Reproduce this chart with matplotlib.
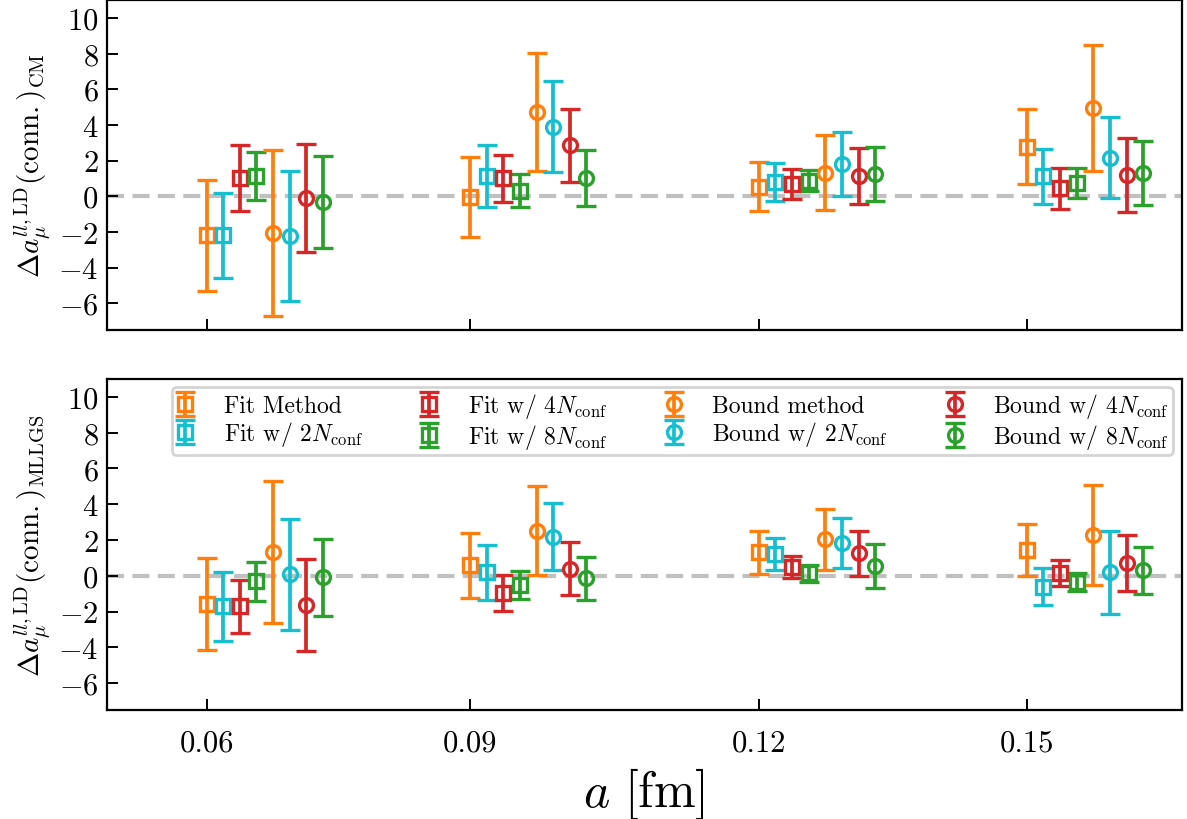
import matplotlib
matplotlib.use("Agg")
import matplotlib.pyplot as plt
import numpy as np

plt.rcParams['font.family'] = 'serif'
plt.rcParams['font.serif'] = ['cmr10', 'DejaVu Serif']
plt.rcParams['mathtext.fontset'] = 'cm'
plt.rcParams['axes.formatter.use_mathtext'] = True
plt.rcParams['axes.unicode_minus'] = True

# lattice spacings (plotting positions) and labels
a_values = [0.0570, 0.0871, 0.1201, 0.1507]
tick_labels = ['0.06', '0.09', '0.12', '0.15']

labels = ['Fit Method', r'Fit w/ $2N_\mathrm{conf}$', r'Fit w/ $4N_\mathrm{conf}$', r'Fit w/ $8N_\mathrm{conf}$',
          'Bound method', r'Bound w/ $2N_\mathrm{conf}$', r'Bound w/ $4N_\mathrm{conf}$', r'Bound w/ $8N_\mathrm{conf}$']
colors = ['#ff7f0e', '#17becf', '#d62728', '#2ca02c', '#ff7f0e', '#17becf', '#d62728', '#2ca02c']
markers = ['s', 's', 's', 's', 'o', 'o', 'o', 'o']

# Top panel (CM): values per series, at each a
cm_fit = [-2.20, -0.06, 0.54, 2.77]
cm_fit_err = [3.13, 2.25, 1.36, 2.10]
cm_fit2 = [-2.20, 1.14, 0.80, 1.12]
cm_fit2_err = [2.40, 1.72, 1.06, 1.53]
cm_fit4 = [1.00, 1.00, 0.69, 0.44]
cm_fit4_err = [1.85, 1.31, 0.84, 1.13]
cm_fit8 = [1.13, 0.32, 0.87, 0.73]
cm_fit8_err = [1.33, 0.95, 0.59, 0.84]
cm_bound = [-2.06, 4.73, 1.32, 4.93]
cm_bound_err = [4.65, 3.31, 2.10, 3.54]
cm_bound2 = [-2.22, 3.90, 1.81, 2.16]
cm_bound2_err = [3.64, 2.56, 1.77, 2.27]
cm_bound4 = [-0.10, 2.85, 1.13, 1.20]
cm_bound4_err = [3.03, 2.03, 1.58, 2.07]
cm_bound8 = [-0.32, 1.03, 1.26, 1.30]
cm_bound8_err = [2.60, 1.55, 1.52, 1.79]

# Bottom panel (MLLGS)
ml_fit = [-1.57, 0.58, 1.31, 1.46]
ml_fit_err = [2.58, 1.84, 1.20, 1.46]
ml_fit2 = [-1.69, 0.20, 1.22, -0.60]
ml_fit2_err = [1.93, 1.55, 0.88, 1.01]
ml_fit4 = [-1.71, -0.95, 0.50, 0.15]
ml_fit4_err = [1.50, 1.00, 0.62, 0.71]
ml_fit8 = [-0.31, -0.50, 0.13, -0.34]
ml_fit8_err = [1.10, 0.77, 0.47, 0.52]
ml_bound = [1.32, 2.52, 2.04, 2.27]
ml_bound_err = [3.96, 2.50, 1.70, 2.79]
ml_bound2 = [0.08, 2.19, 1.85, 0.19]
ml_bound2_err = [3.09, 1.87, 1.40, 2.32]
ml_bound4 = [-1.62, 0.40, 1.25, 0.71]
ml_bound4_err = [2.58, 1.49, 1.25, 1.57]
ml_bound8 = [-0.08, -0.13, 0.54, 0.30]
ml_bound8_err = [2.16, 1.20, 1.22, 1.31]

cm_vals = [cm_fit, cm_fit2, cm_fit4, cm_fit8, cm_bound, cm_bound2, cm_bound4, cm_bound8]
cm_errs = [cm_fit_err, cm_fit2_err, cm_fit4_err, cm_fit8_err, cm_bound_err, cm_bound2_err, cm_bound4_err, cm_bound8_err]
ml_vals = [ml_fit, ml_fit2, ml_fit4, ml_fit8, ml_bound, ml_bound2, ml_bound4, ml_bound8]
ml_errs = [ml_fit_err, ml_fit2_err, ml_fit4_err, ml_fit8_err, ml_bound_err, ml_bound2_err, ml_bound4_err, ml_bound8_err]

fig = plt.figure(figsize=(11.87, 8.2), dpi=100)
ax1 = fig.add_axes([0.0899, 0.5963, 0.9056, 0.4025])
ax2 = fig.add_axes([0.0899, 0.1329, 0.9056, 0.4037])

step = 0.0019
x = np.array(a_values)

def draw(ax, vals, errs):
    ax.axhline(0, color='#c0c0c0', lw=3.0, dashes=(4.1, 2.0), zorder=0)
    for i in range(8):
        ax.errorbar(x + i * step, vals[i], yerr=errs[i], fmt=markers[i], color=colors[i],
                    mfc='none', mec=colors[i], ms=10, mew=2.4, elinewidth=2.7,
                    capsize=7, capthick=2.7, label=labels[i], zorder=3)
    ax.set_xlim(0.0456, 0.1684)
    ax.set_ylim(-7.5, 11)
    ax.set_yticks(np.arange(-6, 11, 2))
    ax.set_xticks(a_values)
    ax.tick_params(direction='in', length=8, width=1.4, labelsize=22, pad=6)
    for s in ax.spines.values():
        s.set_linewidth(1.6)

draw(ax1, cm_vals, cm_errs)
draw(ax2, ml_vals, ml_errs)
ax1.set_xticklabels([])
ax2.set_xticklabels(tick_labels)
ax2.tick_params(axis='x', pad=14)

ax1.set_ylabel(r'$\Delta a_\mu^{ll,\mathrm{LD}}(\mathrm{conn.})_{\mathrm{CM}}$', fontsize=21, labelpad=4)
ax2.set_ylabel(r'$\Delta a_\mu^{ll,\mathrm{LD}}(\mathrm{conn.})_{\mathrm{MLLGS}}$', fontsize=21, labelpad=4)
ax2.set_xlabel(r'$a\ [\mathrm{fm}]$', fontsize=36, labelpad=6)

leg = ax2.legend(ncol=4, loc='upper center', bbox_to_anchor=(0.526, 0.975), fontsize=17,
                 frameon=True, fancybox=True, edgecolor='#d4d4d4', framealpha=1.0,
                 handlelength=0.85, handleheight=0.6, columnspacing=2.4, handletextpad=1.2,
                 labelspacing=0.1, borderpad=0.15, borderaxespad=0.0)
leg.get_frame().set_linewidth(2.0)

fig.savefig('out.png', dpi=100)
